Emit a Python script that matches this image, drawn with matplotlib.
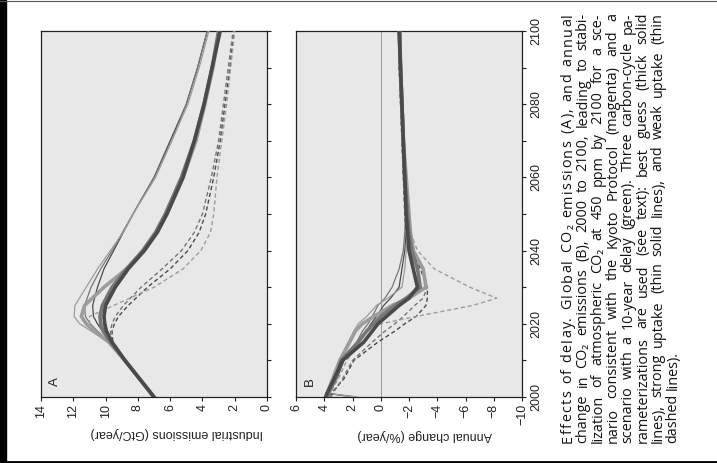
import matplotlib
matplotlib.use("Agg")
import matplotlib.pyplot as plt
from matplotlib.patches import Rectangle
from matplotlib.lines import Line2D

W, H = 717, 463

# ---------------- data ----------------
years_a = [2000, 2005, 2010, 2015, 2018, 2020, 2022, 2025, 2030, 2035, 2040, 2045, 2050, 2060, 2070, 2080, 2090, 2100]
# Panel A: industrial emissions (GtC/year)
s450_best   = [7.0, 7.9, 8.8, 9.6, 9.95, 10.05, 10.1, 10.0, 9.4, 8.6, 7.6, 6.8, 6.2, 5.2, 4.5, 3.9, 3.4, 2.9]
kyoto_best  = [7.0, 7.9, 8.8, 9.7, 10.15, 10.3, 10.35, 10.2, 9.6, 8.7, 7.7, 6.9, 6.3, 5.3, 4.5, 3.9, 3.4, 3.0]
delay_best  = [7.0, 7.9, 8.8, 9.8, 10.7, 11.2, 11.5, 11.3, 10.1, 8.7, 7.6, 6.8, 6.2, 5.2, 4.4, 3.85, 3.35, 2.95]
s450_strong  = [7.0, 7.9, 8.8, 9.7, 10.2, 10.5, 10.75, 10.8, 10.5, 10.1, 9.5, 8.9, 8.3, 7.0, 6.0, 5.0, 4.3, 3.7]
kyoto_strong = [7.0, 7.9, 8.8, 9.75, 10.5, 10.95, 11.25, 11.3, 10.9, 10.3, 9.6, 8.95, 8.3, 7.0, 5.9, 5.0, 4.3, 3.7]
delay_strong = [7.0, 7.9, 8.8, 9.8, 10.9, 11.6, 11.95, 11.9, 11.2, 10.5, 9.7, 8.9, 8.3, 6.9, 5.9, 4.9, 4.2, 3.6]
s450_weak   = [7.0, 7.9, 8.8, 9.55, 9.6, 9.45, 9.2, 8.6, 7.4, 6.0, 4.9, 4.2, 3.8, 3.3, 2.9, 2.6, 2.3, 2.05]
kyoto_weak  = [7.0, 7.9, 8.8, 9.6, 9.7, 9.6, 9.4, 8.9, 7.8, 6.5, 5.3, 4.5, 4.0, 3.45, 3.0, 2.7, 2.4, 2.1]
delay_weak  = [7.0, 7.9, 8.8, 9.8, 10.6, 11.0, 11.0, 9.5, 7.0, 5.2, 4.1, 3.5, 3.3, 3.1, 2.8, 2.5, 2.25, 2.0]

years_b = [2000, 2001, 2005, 2010, 2015, 2018, 2020, 2022, 2025, 2027, 2030, 2035, 2040, 2045, 2050, 2060, 2070, 2080, 2090, 2100]
# Panel B: annual change (%/year)
s450_best_b   = [3.9, 3.8, 3.3, 2.7, 1.2, 0.6, 0.2, -0.4, -1.3, -2.0, -2.6, -2.3, -2.0, -1.9, -1.8, -1.7, -1.6, -1.5, -1.4, -1.3]
kyoto_best_b  = [3.8, 3.7, 3.2, 2.8, 1.6, 1.0, 0.5, 0.0, -1.0, -1.8, -2.8, -2.6, -2.2, -2.0, -1.9, -1.7, -1.6, -1.5, -1.4, -1.35]
delay_best_b  = [3.9, 3.8, 3.4, 2.9, 2.2, 1.8, 1.3, 0.5, -0.8, -2.0, -3.2, -3.0, -2.3, -2.1, -2.0, -1.8, -1.6, -1.5, -1.4, -1.3]
s450_strong_b  = [1.8, 3.8, 3.1, 2.6, 1.5, 1.0, 0.7, 0.3, -0.2, -0.7, -1.3, -1.5, -1.7, -1.8, -1.8, -1.7, -1.6, -1.5, -1.45, -1.4]
kyoto_strong_b = [2.0, 3.7, 3.2, 2.7, 1.7, 1.3, 0.9, 0.6, 0.2, -0.3, -0.8, -1.3, -1.6, -1.7, -1.75, -1.7, -1.6, -1.5, -1.45, -1.4]
delay_strong_b = [1.6, 3.9, 3.4, 2.9, 2.3, 1.9, 1.6, 1.0, 0.3, -0.5, -1.5, -1.7, -1.8, -1.9, -1.8, -1.7, -1.6, -1.5, -1.4, -1.35]
s450_weak_b   = [3.6, 3.5, 2.6, 1.9, 0.2, -1.0, -1.7, -2.5, -3.2, -3.3, -3.3, -2.8, -2.2, -1.8, -1.7, -1.6, -1.5, -1.4, -1.3, -1.25]
kyoto_weak_b  = [3.5, 3.4, 2.7, 2.0, 0.6, -0.3, -1.0, -1.6, -2.4, -3.0, -3.3, -3.0, -2.4, -2.0, -1.8, -1.6, -1.5, -1.4, -1.3, -1.25]
delay_weak_b  = [3.6, 3.6, 3.0, 2.4, 1.5, 1.0, 0.0, -2.5, -6.5, -8.2, -6.3, -3.8, -2.6, -2.1, -1.8, -1.7, -1.6, -1.5, -1.4, -1.3]

emis_ticks = [0, 2, 4, 6, 8, 10, 12, 14]
change_ticks = [6, 4, 2, 0, -2, -4, -6, -8, -10]
year_ticks = [2000, 2020, 2040, 2060, 2080, 2100]

caption_lines = [
    "Effects of delay. Global CO\u2082 emissions (A), and annual",
    "change in CO\u2082 emissions (B), 2000 to 2100, leading to stabi-",
    "lization of atmospheric CO\u2082 at 450 ppm by 2100 for a sce-",
    "nario consistent with the Kyoto Protocol (magenta) and a",
    "scenario with a 10-year delay (green). Three carbon-cycle pa-",
    "rameterizations are used (see text): best guess (thick solid",
    "lines), strong uptake (thin solid lines), and weak uptake (thin",
    "dashed lines).",
]

# ---------------- styling ----------------
c_s450, c_kyoto, c_delay = "#4a4a4a", "#767676", "#9c9c9c"
face = "#e8e8e8"
axfont = ["Liberation Sans", "DejaVu Sans"]
capfont = ["Open Sans", "DejaVu Sans"]

fig = plt.figure(figsize=(W / 100, H / 100), dpi=100)
fig.patch.set_facecolor("white")


def ax_rect(x0, x1, y0, y1):
    return [x0 / W, 1 - y1 / H, (x1 - x0) / W, (y1 - y0) / H]


axA = fig.add_axes(ax_rect(41, 267, 31, 397))
axB = fig.add_axes(ax_rect(296, 522, 31, 397))

series_a = [
    (s450_strong, c_s450, 0.9, "-"), (kyoto_strong, c_kyoto, 0.9, "-"), (delay_strong, c_delay, 0.9, "-"),
    (s450_weak, c_s450, 1.0, "--"), (kyoto_weak, c_kyoto, 1.0, "--"), (delay_weak, c_delay, 1.0, "--"),
    (delay_best, c_delay, 2.6, "-"), (kyoto_best, c_kyoto, 2.6, "-"), (s450_best, c_s450, 2.6, "-"),
]
series_b = [
    (s450_strong_b, c_s450, 0.9, "-"), (kyoto_strong_b, c_kyoto, 0.9, "-"), (delay_strong_b, c_delay, 0.9, "-"),
    (s450_weak_b, c_s450, 1.0, "--"), (kyoto_weak_b, c_kyoto, 1.0, "--"), (delay_weak_b, c_delay, 1.0, "--"),
    (delay_best_b, c_delay, 2.6, "-"), (kyoto_best_b, c_kyoto, 2.6, "-"), (s450_best_b, c_s450, 2.6, "-"),
]

for ax in (axA, axB):
    ax.set_facecolor(face)
    ax.set_ylim(2000, 2100)
    ax.yaxis.tick_right()
    ax.set_yticks(range(2000, 2101, 10))
    for s in ax.spines.values():
        s.set_linewidth(0.9)
        s.set_color("#222222")
    ax.tick_params(axis="both", direction="out", length=3, width=0.8, colors="#222222",
                   labelsize=9, labelcolor="#222222")
    ax.tick_params(axis="x", labelrotation=90, pad=2)

axB.axvline(0, color="#9a9a9a", lw=0.7, zorder=1)

for vals, col, lw, ls in series_a:
    axA.plot(vals, years_a, color=col, lw=lw, ls=ls, dashes=(3, 2) if ls == "--" else (None, None),
             solid_joinstyle="round", zorder=3)
for vals, col, lw, ls in series_b:
    axB.plot(vals, years_b, color=col, lw=lw, ls=ls, dashes=(3, 2) if ls == "--" else (None, None),
             solid_joinstyle="round", zorder=3)

axA.set_xlim(14, 0)
axA.set_xticks(emis_ticks)
axA.set_xticklabels([str(v) for v in emis_ticks], fontfamily=axfont)
axA.set_yticklabels([])

axB.set_xlim(6, -10)
axB.set_xticks(change_ticks)
axB.set_xticklabels([("\u2212" + str(-v)) if v < 0 else str(v) for v in change_ticks], fontfamily=axfont)
axB.set_yticks(year_ticks)
axB.set_yticks(range(2010, 2100, 20), minor=True)
axB.tick_params(axis="y", which="minor", direction="out", length=3, width=0.8, colors="#222222")
axB.set_yticklabels([str(y) for y in year_ticks], fontfamily=axfont, rotation=90, va="center")
axB.tick_params(axis="y", pad=3)

# panel letters
axA.text(0.035, 0.03, "A", transform=axA.transAxes, rotation=90, fontsize=9.5,
         family=axfont, ha="left", va="bottom", color="#222222")
axB.text(0.035, 0.03, "B", transform=axB.transAxes, rotation=90, fontsize=9.5,
         family=axfont, ha="left", va="bottom", color="#222222")

# axis titles (upside-down in this rotated page)
fig.text(177 / W, 1 - 433 / H, "Industrial emissions (GtC/year)", rotation=180,
         fontsize=9, family=axfont, ha="center", va="center", color="#222222")
fig.text(425 / W, 1 - 435 / H, "Annual change (%/year)", rotation=180,
         fontsize=9, family=axfont, ha="center", va="center", color="#222222")

# ---------------- caption (rotated, justified) ----------------
renderer = fig.canvas.get_renderer()
cap_fs = 10.4
y_start, y_end = 443, 13  # image px (bottom to top)
line_x = [568, 583, 598, 613, 628, 643, 658, 673]


def measure(s, fs):
    t = fig.text(0, 0, s, fontsize=fs, family=capfont)
    w = t.get_window_extent(renderer=renderer).width
    t.remove()
    return w


avail = y_start - y_end
for i, line in enumerate(caption_lines):
    x = line_x[i]
    units = list(line) if i == 0 else line.split(" ")
    fs = cap_fs
    while True:
        sp = measure("n", fs) * 0.5
        widths = [measure(u, fs) if u.strip() else sp for u in units]
        total = sum(widths)
        if i == 0 or i == len(caption_lines) - 1 or total + sp * 0.6 * (len(units) - 1) <= avail or fs < 7:
            break
        fs -= 0.2
    if i == len(caption_lines) - 1:
        gap = sp * 0.8
    else:
        gap = (avail - total) / (len(units) - 1)
    y = y_start
    for u, wd in zip(units, widths):
        if u.strip():
            fig.text(x / W, 1 - y / H, u, rotation=90, rotation_mode="anchor",
                     ha="left", va="center", fontsize=fs, family=capfont, color="#111111")
        y -= wd + gap

# page border marks
fig.patches.append(Rectangle((0, 0), 6 / W, 1, transform=fig.transFigure, color="black", zorder=0))
fig.lines.append(Line2D([0, 1], [1 - 461.5 / H, 1 - 461.5 / H], transform=fig.transFigure, color="black", lw=2))
fig.lines.append(Line2D([0, 1], [1 - 0.5 / H, 1 - 0.5 / H], transform=fig.transFigure, color="#555555", lw=0.8))

fig.savefig("out.png", dpi=100, facecolor="white")
